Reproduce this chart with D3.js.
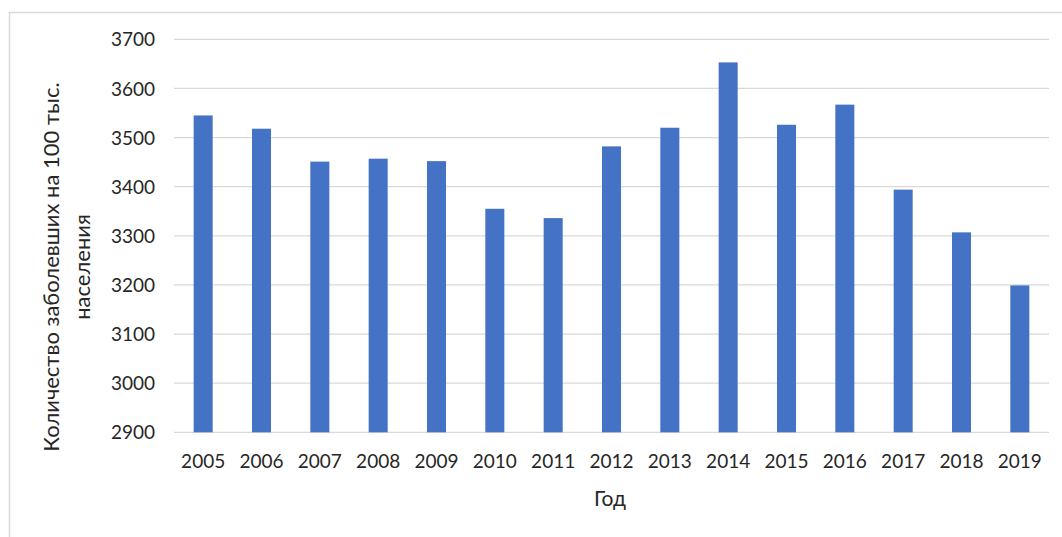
<!DOCTYPE html>
<html>
<head>
<meta charset="utf-8">
<script src="https://cdn.jsdelivr.net/npm/d3@7"></script>
<style>
  html, body { margin: 0; padding: 0; background: #fff; }
  svg text { font-family: Lato, "Open Sans", sans-serif; fill: #262626; }
</style>
</head>
<body>
<svg id="chart" width="1062" height="537"></svg>
<script>
const years = ["2005","2006","2007","2008","2009","2010","2011","2012","2013","2014","2015","2016","2017","2018","2019"];
const values = [3545, 3518, 3451, 3457, 3452, 3355, 3336, 3482, 3520, 3653, 3526, 3567, 3394, 3307, 3199];
const yTicks = [2900, 3000, 3100, 3200, 3300, 3400, 3500, 3600, 3700];
const yTitleLines = ["Количество заболевших на 100 тыс.", "населения"];
const xTitle = "Год";

const svg = d3.select("#chart");
const W = 1062, H = 537;
const plot = { left: 174, right: 1049, top: 39.3, bottom: 432.3 };

// chart frame
svg.append("rect")
  .attr("x", 9.5).attr("y", 12.5)
  .attr("width", W + 20).attr("height", H + 20)
  .attr("fill", "#fff").attr("stroke", "#d9d9d9").attr("stroke-width", 1.5);

const x = d3.scaleBand().domain(years).range([plot.left, plot.right]).paddingInner(0.674).paddingOuter(0.337);
const y = d3.scaleLinear().domain([2900, 3700]).range([plot.bottom, plot.top]);

// gridlines
svg.append("g").selectAll("line").data(yTicks).join("line")
  .attr("x1", plot.left).attr("x2", plot.right)
  .attr("y1", d => y(d)).attr("y2", d => y(d))
  .attr("stroke", "#d9d9d9").attr("stroke-width", 1.3);

// bars
svg.append("g").selectAll("rect").data(values).join("rect")
  .attr("x", (d, i) => x(years[i]))
  .attr("width", x.bandwidth())
  .attr("y", d => y(d))
  .attr("height", d => y(2900) - y(d))
  .attr("fill", "#4472c4");

// y axis labels
const yAxis = d3.axisLeft(y).tickValues(yTicks).tickSize(0).tickPadding(0).tickFormat(d3.format("d"));
const gy = svg.append("g").attr("transform", `translate(${plot.left - 19},0)`).call(yAxis);
gy.select(".domain").remove();
gy.selectAll("text").attr("font-size", 19).attr("font-family", "Lato, 'Open Sans', sans-serif").attr("fill", "#262626").attr("dy", "0.35em");

// x axis labels
const xAxis = d3.axisBottom(x).tickSize(0).tickPadding(0);
const gx = svg.append("g").attr("transform", `translate(0,${plot.bottom + 22})`).call(xAxis);
gx.select(".domain").remove();
gx.selectAll("text").attr("font-size", 19).attr("font-family", "Lato, 'Open Sans', sans-serif").attr("fill", "#262626").attr("dy", "0.71em");

// y title
const yt = svg.append("text")
  .attr("transform", "translate(67,267) rotate(-90)")
  .attr("text-anchor", "middle")
  .attr("font-size", 22);
yTitleLines.forEach((t, i) => {
  yt.append("tspan").attr("x", 0).attr("dy", i === 0 ? "-0.35em" : "1.4em").text(t);
});

// x title
svg.append("text")
  .attr("x", 610).attr("y", 506)
  .attr("text-anchor", "middle")
  .attr("font-size", 21)
  .text(xTitle);
</script>
</body>
</html>
